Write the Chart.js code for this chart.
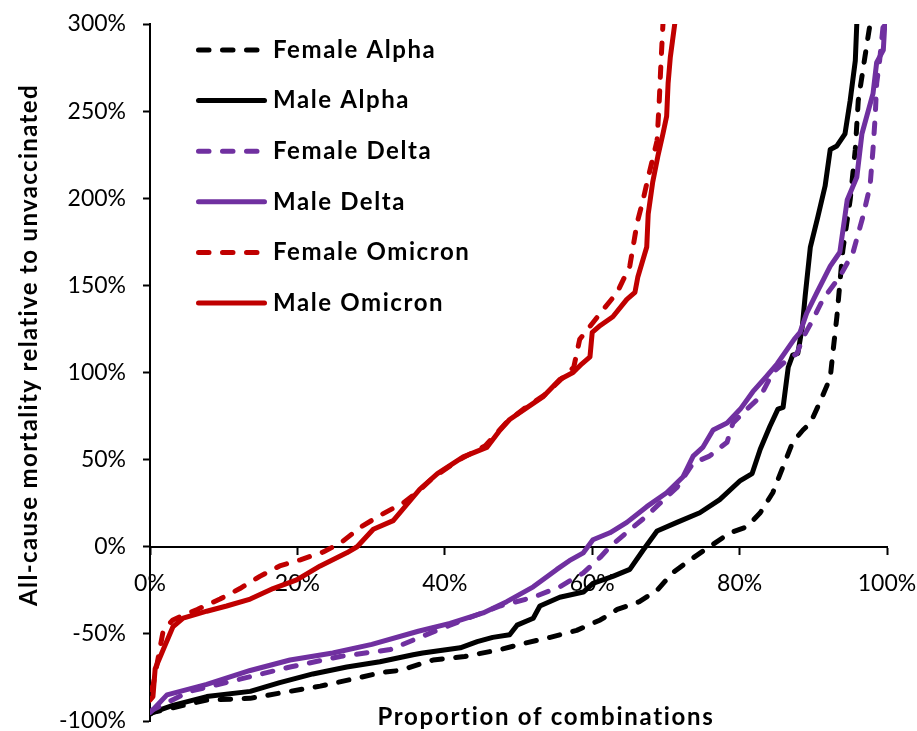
<!DOCTYPE html>
<html>
<head>
<meta charset="utf-8">
<title>All-cause mortality relative to unvaccinated</title>
<script src="https://cdn.jsdelivr.net/npm/chart.js@4.4.0/dist/chart.umd.min.js"></script>
<style>
  html, body { margin: 0; padding: 0; background: #ffffff; }
  canvas { display: block; }
</style>
</head>
<body>
<canvas id="chart" width="917" height="731"></canvas>
<script>
// Proportion of combinations (%) on x, mortality relative to unvaccinated (%) on y.
const femaleAlphaX = [0, 0.4, 7.7, 13.6, 17.6, 23.1, 28.5, 31.6, 33.9, 38.4, 42.7, 47.5, 51.2, 54.3, 57.9, 61.1, 63.4, 66.4, 68.8, 70.9, 73.3, 75.9, 78.7, 81.0, 82.8, 84.5, 85.9, 87.2, 88.6, 89.6, 90.9, 92.3, 92.7, 93.2, 94.0, 95.0, 95.7, 96.1, 97.0, 97.7];
const femaleAlphaY = [-96, -95, -88, -87, -84, -80, -75, -72, -71, -65, -63, -59, -55, -52, -48, -42, -36, -31.5, -25, -15, -7.5, 0, 8, 11.5, 19.5, 31, 46, 60, 67, 71, 83, 97, 113, 132, 170, 199, 228, 256, 281, 300];

const maleAlphaX = [0, 0.4, 3.1, 7.7, 13.6, 17.6, 22.1, 26.7, 31.2, 35.7, 37.0, 42.1, 44.4, 46.5, 48.8, 49.8, 52.0, 52.9, 55.6, 58.8, 60.1, 62.8, 65.1, 66.9, 68.8, 71.5, 74.6, 77.3, 80.1, 81.7, 82.8, 84.1, 85.2, 85.9, 86.6, 87.2, 87.9, 88.5, 88.9, 89.6, 90.6, 91.6, 92.3, 93.2, 94.3, 95.0, 95.7, 95.9];
const maleAlphaY = [-96, -95, -91, -86, -83, -78, -73, -69, -66, -62, -61, -58, -54.5, -52, -50.5, -45, -41, -34, -29, -26, -21, -17, -13, -2, 9, 14, 19.5, 27, 38, 42, 56, 69, 79, 80, 103, 110, 111, 126, 144, 172, 189, 207, 228, 230, 237, 256, 279, 300];

const femaleDeltaX = [0, 0.4, 5.4, 12.2, 19.0, 25.8, 32.6, 36.6, 40.7, 47.5, 52.0, 55.6, 58.8, 61.1, 62.4, 64.9, 67.2, 69.2, 71.5, 73.7, 75.9, 78.3, 79.1, 81.0, 82.8, 84.5, 86.4, 87.8, 88.6, 89.9, 91.3, 93.6, 95.4, 96.7, 97.7, 98.1, 98.4, 98.6, 99.0, 99.5];
const femaleDeltaY = [-95, -93.5, -83, -76, -69, -63, -59, -52, -45, -34, -29, -23, -15, -6, 0, 9, 17, 25, 34, 48, 52, 60, 71, 79, 86, 100, 107, 111, 120, 130, 142, 155, 169, 189, 207, 228, 247, 266, 279, 300];

const maleDeltaX = [0, 0.4, 2.3, 7.7, 13.6, 19.0, 24.8, 30.1, 36.4, 40.7, 45.2, 48.4, 52.0, 55.2, 56.9, 58.8, 60.1, 62.4, 64.7, 67.4, 70.1, 72.3, 73.7, 75.0, 76.4, 78.3, 80.1, 81.8, 83.7, 85.1, 87.4, 88.2, 89.1, 90.5, 92.3, 93.6, 94.6, 95.9, 96.6, 98.1, 98.6, 99.5, 99.7];
const maleDeltaY = [-95, -93.5, -85, -79, -71, -65, -61, -56, -48.5, -44, -38, -31.5, -23, -13, -8, -3.5, 4, 8, 14, 23, 31, 40, 52, 57, 67, 71, 79, 89, 98, 105, 119, 123, 134, 146, 161, 169, 199, 212, 237, 260, 278, 285, 300];

const femaleOmicronX = [0, 0.4, 1.8, 3.1, 6.4, 9.5, 12.2, 14.9, 17.6, 20.4, 23.5, 25.8, 28.5, 31.2, 34.3, 36.2, 38.5, 42.0, 45.5, 48.5, 51.0, 53.5, 56.0, 57.5, 58.3, 61.1, 63.4, 65.1, 66.1, 66.9, 67.6, 68.8, 69.1, 69.3, 69.6];
const femaleOmicronY = [-82, -80, -48, -42, -36, -30, -24, -17, -11, -7.5, -3, 2, 11, 18, 25, 31, 40, 50, 58, 72, 80, 87, 97, 103, 119, 134, 146, 161, 186, 199, 212, 233, 256, 275, 300];

const maleOmicronX = [0, 0.4, 0.7, 2.0, 3.1, 4.5, 7.7, 10.4, 13.6, 16.7, 19.9, 23.1, 26.7, 28.1, 30.3, 33.0, 36.6, 39.0, 42.5, 45.7, 47.5, 48.8, 51.2, 53.3, 55.6, 57.4, 58.6, 59.7, 60.0, 61.1, 62.8, 64.7, 65.8, 66.2, 67.4, 67.6, 68.2, 68.9, 69.6, 70.1, 70.3, 70.6, 71.2];
const maleOmicronY = [-88, -86, -70, -57, -46, -41, -37, -34, -30, -24, -19, -11, -3.5, 0, 10, 15, 33, 42, 51.6, 57, 67, 73, 80, 86, 96, 100, 105, 109, 123, 127, 132, 142, 146, 155, 172, 191, 209, 224, 237, 247, 266, 281, 300];

const seriesNames = ['Female Alpha', 'Male Alpha', 'Female Delta', 'Male Delta', 'Female Omicron', 'Male Omicron'];
const xTicks = [0, 20, 40, 60, 80, 100];
const yTicks = [-100, -50, 0, 50, 100, 150, 200, 250, 300];
const xTitle = 'Proportion of combinations';
const yTitle = 'All-cause mortality relative to unvaccinated';

const BLACK = '#000000';
const PURPLE = '#7030A0';
const RED = '#C00000';
const DASH = [10.5, 13.5];
const FONT = 'Lato, "Open Sans", sans-serif';

function toPoints(xs, ys) {
  return xs.map((x, i) => ({ x: x, y: ys[i] }));
}

const seriesValues = [
  [femaleAlphaX, femaleAlphaY, BLACK, true],
  [maleAlphaX, maleAlphaY, BLACK, false],
  [femaleDeltaX, femaleDeltaY, PURPLE, true],
  [maleDeltaX, maleDeltaY, PURPLE, false],
  [femaleOmicronX, femaleOmicronY, RED, true],
  [maleOmicronX, maleOmicronY, RED, false]
];

const datasets = seriesValues.map(([xs, ys, color, dashed], i) => ({
  label: seriesNames[i],
  data: toPoints(xs, ys),
  borderColor: color,
  backgroundColor: color,
  borderWidth: 5,
  borderDash: dashed ? DASH : [],
  borderCapStyle: 'round',
  borderJoinStyle: 'round',
  pointRadius: 0,
  tension: 0,
  fill: false,
  order: seriesNames.length - 1 - i
}));

function setSpacing(ctx, px) {
  if ('letterSpacing' in ctx) ctx.letterSpacing = px + 'px';
}

// Legend drawn inside the plot area, top left, one row per series.
const insideLegend = {
  id: 'insideLegend',
  afterDraw(chart) {
    const { ctx, chartArea } = chart;
    ctx.save();
    chart.data.datasets.forEach((ds, i) => {
      const y = chartArea.top + 26 + i * 50.6;
      ctx.beginPath();
      ctx.strokeStyle = ds.borderColor;
      ctx.lineWidth = ds.borderWidth;
      ctx.lineCap = 'round';
      ctx.setLineDash(ds.borderDash);
      ctx.moveTo(chartArea.left + 48.5, y);
      ctx.lineTo(chartArea.left + 114.5, y);
      ctx.stroke();
      ctx.setLineDash([]);
      ctx.fillStyle = '#000';
      ctx.font = 'bold 24px ' + FONT;
      setSpacing(ctx, 1.6);
      ctx.textAlign = 'left';
      ctx.textBaseline = 'middle';
      ctx.fillText(ds.label, chartArea.left + 123, y);
    });
    ctx.restore();
  }
};

// Axis captions: x caption along the bottom, y caption rotated at the left.
const axisCaptions = {
  id: 'axisCaptions',
  afterDraw(chart) {
    const { ctx, chartArea } = chart;
    ctx.save();
    ctx.fillStyle = '#000';
    ctx.font = 'bold 24px ' + FONT;
    ctx.textAlign = 'center';
    ctx.textBaseline = 'alphabetic';
    setSpacing(ctx, 1.7);
    ctx.fillText(xTitle, chartArea.left + 396, chartArea.bottom + 4);
    setSpacing(ctx, 1.35);
    ctx.translate(chartArea.left - 113, chartArea.top + 321);
    ctx.rotate(-Math.PI / 2);
    ctx.fillText(yTitle, 0, 0);
    ctx.restore();
  }
};

new Chart(document.getElementById('chart'), {
  type: 'line',
  data: { datasets: datasets },
  options: {
    responsive: false,
    animation: false,
    devicePixelRatio: 1,
    layout: { padding: { top: 24, right: 30, bottom: 10, left: 0 } },
    plugins: { legend: { display: false }, tooltip: { enabled: false } },
    scales: {
      x: {
        type: 'linear',
        min: 0,
        max: 100,
        position: { y: 0 },
        afterBuildTicks: (axis) => { axis.ticks = xTicks.map(v => ({ value: v })); },
        afterFit: (axis) => { axis.paddingLeft = 0; axis.paddingRight = 0; },
        ticks: {
          callback: (v) => v + '%',
          color: '#000',
          font: { family: FONT, size: 23 },
          padding: 16,
          maxRotation: 0,
          autoSkip: false
        },
        grid: { drawOnChartArea: false, drawTicks: true, tickLength: 7, tickColor: '#000', tickWidth: 2 },
        border: { display: true, color: '#000', width: 2 }
      },
      y: {
        type: 'linear',
        min: -100,
        max: 300,
        position: 'left',
        afterBuildTicks: (axis) => { axis.ticks = yTicks.map(v => ({ value: v })); },
        afterFit: (axis) => { axis.width = 150; axis.paddingTop = 0; axis.paddingBottom = 0; },
        ticks: {
          callback: (v) => v + '%',
          color: '#000',
          font: { family: FONT, size: 23 },
          padding: 17,
          autoSkip: false
        },
        grid: { drawOnChartArea: false, drawTicks: true, tickLength: 7, tickColor: '#000', tickWidth: 2 },
        border: { display: true, color: '#000', width: 2 }
      }
    }
  },
  plugins: [insideLegend, axisCaptions]
});
</script>
</body>
</html>
